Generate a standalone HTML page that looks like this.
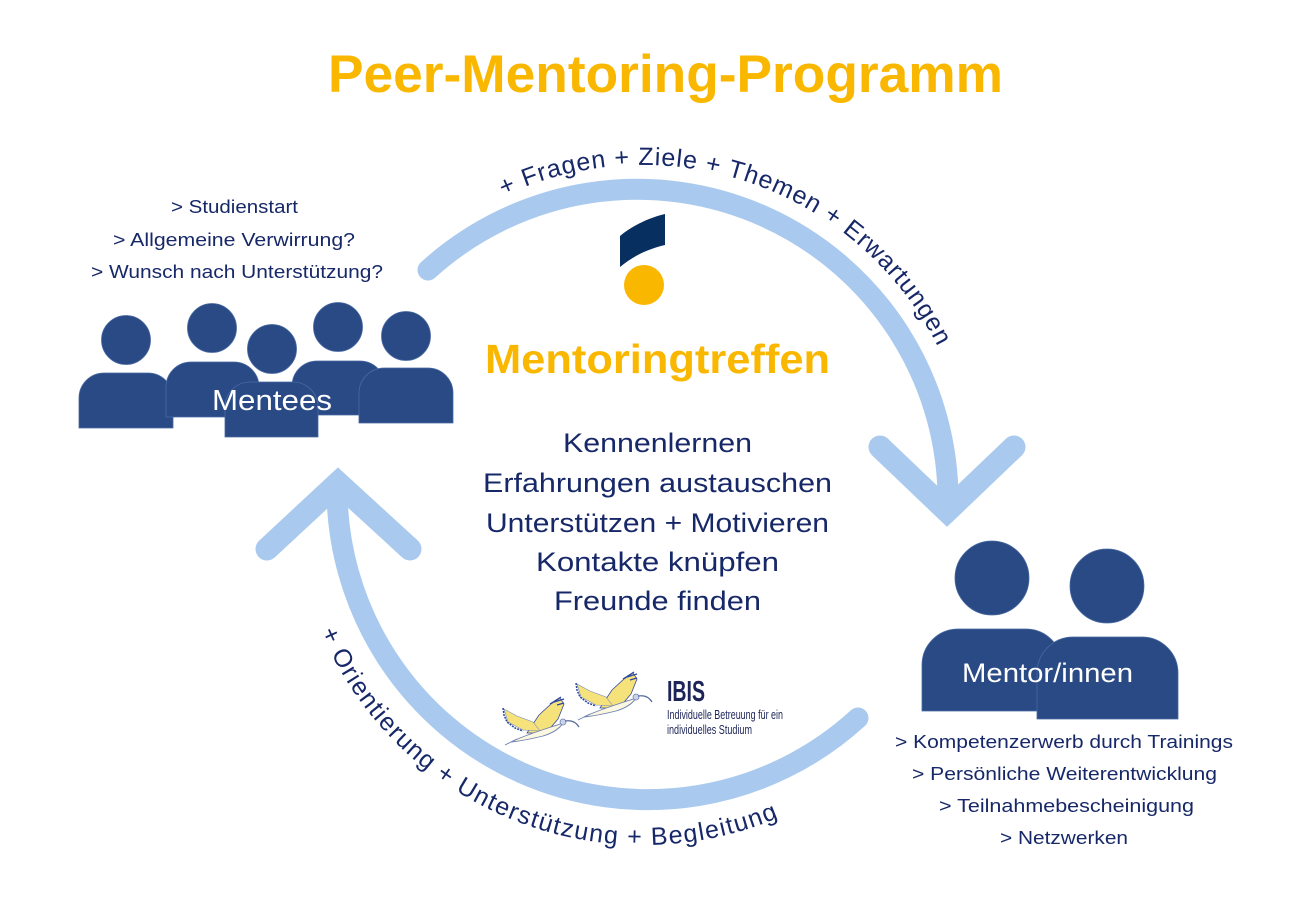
<!DOCTYPE html>
<html>
<head>
<meta charset="utf-8">
<style>
  html,body{margin:0;padding:0;background:#fff;}
  svg{display:block;}
  text{font-family:"Liberation Sans", sans-serif;}
</style>
</head>
<body>
<svg width="1300" height="919" viewBox="0 0 1300 919" xmlns="http://www.w3.org/2000/svg">
  <rect x="0" y="0" width="1300" height="919" fill="#ffffff"/>

  <!-- Title -->
  <text x="328" y="92" font-size="53" font-weight="bold" fill="#FAB700" textLength="675" lengthAdjust="spacingAndGlyphs">Peer-Mentoring-Programm</text>

  <!-- Cycle arrows -->
  <g fill="none" stroke="#A9CAEE" stroke-linecap="round">
    <path d="M428,270 A311,311 0 0 1 948,506" stroke-width="21"/>
    <path d="M858,718 A311,311 0 0 1 337,486" stroke-width="21"/>
    <polyline points="880,447 947,511 1014,447" stroke-width="23" stroke-linejoin="miter" stroke-miterlimit="10"/>
    <polyline points="267,549 338,483 410,549" stroke-width="23" stroke-linejoin="miter" stroke-miterlimit="10"/>
  </g>

  <!-- Curved labels -->
  <defs>
    <path id="arcTop" d="M503.5,195.9 A330,330 0 0 1 942.1,355.5"/>
    <path id="arcBot" d="M320.8,631.7 A350,350 0 0 0 785.4,814.7"/>
  </defs>
  <text font-size="25" fill="#172868">
    <textPath href="#arcTop" textLength="508" lengthAdjust="spacing">+ Fragen + Ziele + Themen + Erwartungen</textPath>
  </text>
  <text font-size="25" fill="#172868">
    <textPath href="#arcBot" textLength="548" lengthAdjust="spacing">+ Orientierung + Unterstützung + Begleitung</textPath>
  </text>

  <!-- Center logo -->
  <path d="M620,236 C632,226 648,218 665,214 L665,245 C648,249 633,256 620,267 Z" fill="#072F5F"/>
  <circle cx="644" cy="285" r="20" fill="#FAB700"/>

  <!-- Mentoringtreffen -->
  <text x="485" y="373" font-size="41" font-weight="bold" fill="#FAB700" textLength="345" lengthAdjust="spacingAndGlyphs">Mentoringtreffen</text>

  <!-- Center list -->
  <g font-size="27" fill="#172868">
    <text x="563" y="452" textLength="189" lengthAdjust="spacingAndGlyphs">Kennenlernen</text>
    <text x="483" y="492" textLength="349" lengthAdjust="spacingAndGlyphs">Erfahrungen austauschen</text>
    <text x="486" y="532" textLength="343" lengthAdjust="spacingAndGlyphs">Unterstützen + Motivieren</text>
    <text x="536" y="571" textLength="243" lengthAdjust="spacingAndGlyphs">Kontakte knüpfen</text>
    <text x="554" y="610" textLength="207" lengthAdjust="spacingAndGlyphs">Freunde finden</text>
  </g>

  <!-- Mentee bullet texts -->
  <g font-size="18" fill="#172868">
    <text x="171" y="213" textLength="127" lengthAdjust="spacingAndGlyphs">&gt; Studienstart</text>
    <text x="113" y="246" textLength="242" lengthAdjust="spacingAndGlyphs">&gt; Allgemeine Verwirrung?</text>
    <text x="91" y="278" textLength="292" lengthAdjust="spacingAndGlyphs">&gt; Wunsch nach Unterstützung?</text>
  </g>

  <!-- Mentees group -->
  <g fill="#294A85" stroke="#4A69A2" stroke-width="0.8">
    <circle cx="126" cy="340" r="24.5"/>
    <path d="M79,428 V398 A25,25 0 0 1 104,373 H148 A25,25 0 0 1 173,398 V428 Z"/>
    <circle cx="212" cy="328" r="24.5"/>
    <path d="M166,417 V387 A25,25 0 0 1 191,362 H234 A25,25 0 0 1 259,387 V417 Z"/>
    <circle cx="338" cy="327" r="24.5"/>
    <path d="M292,415 V386 A25,25 0 0 1 317,361 H360 A25,25 0 0 1 385,386 V415 Z"/>
    <circle cx="406" cy="336" r="24.5"/>
    <path d="M359,423 V393 A25,25 0 0 1 384,368 H428 A25,25 0 0 1 453,393 V423 Z"/>
    <circle cx="272" cy="349" r="24.5"/>
    <path d="M225,437 V407 A25,25 0 0 1 250,382 H293 A25,25 0 0 1 318,407 V437 Z"/>
  </g>
  <text x="212" y="410" font-size="29" fill="#ffffff" textLength="120" lengthAdjust="spacingAndGlyphs">Mentees</text>

  <!-- Mentors group -->
  <g fill="#294A85" stroke="#4A69A2" stroke-width="0.8">
    <circle cx="992" cy="578" r="37"/>
    <path d="M922,711 V665 A36,36 0 0 1 958,629 H1026 A36,36 0 0 1 1062,665 V711 Z"/>
    <circle cx="1107" cy="586" r="37"/>
    <path d="M1037,719 V673 A36,36 0 0 1 1073,637 H1142 A36,36 0 0 1 1178,673 V719 Z"/>
  </g>
  <text x="962" y="682" font-size="27" fill="#ffffff" textLength="171" lengthAdjust="spacingAndGlyphs">Mentor/innen</text>

  <!-- Mentor bullet texts -->
  <g font-size="18.5" fill="#172868">
    <text x="895" y="748" textLength="338" lengthAdjust="spacingAndGlyphs">&gt; Kompetenzerwerb durch Trainings</text>
    <text x="912" y="780" textLength="305" lengthAdjust="spacingAndGlyphs">&gt; Persönliche Weiterentwicklung</text>
    <text x="939" y="812" textLength="255" lengthAdjust="spacingAndGlyphs">&gt; Teilnahmebescheinigung</text>
    <text x="1000" y="844" textLength="128" lengthAdjust="spacingAndGlyphs">&gt; Netzwerken</text>
  </g>

  <!-- IBIS logo birds -->
  <defs>
    <g id="bird">
      <!-- upper wing -->
      <path d="M600,708 L612,690 L624,679 L633,673 L637,679 L631,694 L619,708 Z" fill="#F6E27A" stroke="#3B4F9A" stroke-width="0.8"/>
      <path d="M623,679 L634,672 M627,677 L637,674 M630,680 L637,678" stroke="#2A45A0" stroke-width="1.2"/>
      <!-- lower wing -->
      <path d="M577,684 L590,691 L606,697 L613,706 L596,705 L581,697 Z" fill="#F6E27A" stroke="#7A8CC0" stroke-width="0.6"/>
      <path d="M576,683 L577,690 L580,697 L588,703 L596,706" fill="none" stroke="#2A45A0" stroke-width="1.5" stroke-dasharray="2,1"/>
      <!-- body -->
      <path d="M584,717 C596,711 612,706 624,702 C630,700 634,699 636,698 C633,703 626,708 616,711 C604,714 594,716 584,717 Z" fill="#FBF7E0" stroke="#6D7FB2" stroke-width="0.9"/>
      <!-- head + beak -->
      <circle cx="636" cy="697" r="3" fill="#C9D3EA" stroke="#6D7FB2" stroke-width="0.8"/>
      <path d="M638,696 C644,695 649,697 652,702" fill="none" stroke="#5C6E9E" stroke-width="1.3"/>
      <!-- legs -->
      <path d="M590,714 L578,720" stroke="#6D7FB2" stroke-width="0.9"/>
    </g>
  </defs>
  <use href="#bird"/>
  <use href="#bird" transform="translate(-73,25)"/>

  <text x="667" y="701" font-size="29" font-weight="bold" fill="#1C2458" font-family="'Liberation Sans Narrow','Liberation Sans',sans-serif" textLength="38" lengthAdjust="spacingAndGlyphs">IBIS</text>
  <text x="667" y="719" font-size="12.5" fill="#1C2458" font-family="'Liberation Sans Narrow','Liberation Sans',sans-serif" textLength="116" lengthAdjust="spacingAndGlyphs">Individuelle Betreuung für ein</text>
  <text x="667" y="734" font-size="12.5" fill="#1C2458" font-family="'Liberation Sans Narrow','Liberation Sans',sans-serif" textLength="85" lengthAdjust="spacingAndGlyphs">individuelles Studium</text>
</svg>
</body>
</html>
